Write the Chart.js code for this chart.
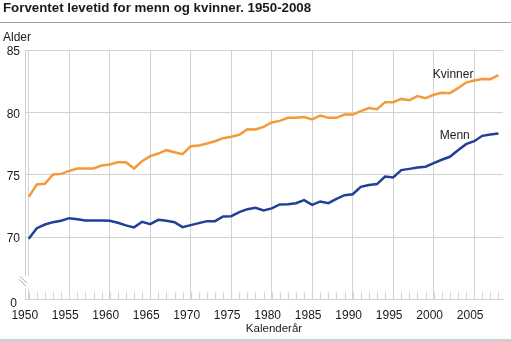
<!DOCTYPE html>
<html>
<head>
<meta charset="utf-8">
<script src="https://cdn.jsdelivr.net/npm/chart.js@4.4.1/dist/chart.umd.min.js"></script>
<style>
html,body{margin:0;padding:0;background:#fff;}
#wrap{width:511px;height:342px;position:relative;}
</style>
</head>
<body>
<div id="wrap"><canvas id="c" width="511" height="342"></canvas></div>
<script>
const years = [];
for (let y = 1950; y <= 2008; y++) years.push(y);

const kvinner = [73.23,74.22,74.27,75.02,75.07,75.31,75.50,75.50,75.50,75.74,
  75.82,76.00,76.00,75.50,76.09,76.49,76.70,76.97,76.81,76.65,
  77.29,77.35,77.50,77.69,77.93,78.04,78.20,78.65,78.63,78.84,
  79.19,79.32,79.56,79.56,79.62,79.43,79.75,79.56,79.56,79.83,
  79.83,80.10,80.34,80.26,80.82,80.82,81.08,80.98,81.30,81.14,
  81.41,81.57,81.54,81.94,82.39,82.55,82.68,82.66,82.98];

const menn = [69.87,70.72,71.01,71.20,71.31,71.52,71.44,71.34,71.34,71.34,
  71.31,71.15,70.94,70.78,71.23,71.04,71.39,71.31,71.20,70.80,
  70.96,71.12,71.28,71.28,71.66,71.68,72.00,72.24,72.35,72.14,
  72.30,72.62,72.64,72.72,72.96,72.59,72.86,72.72,73.07,73.36,
  73.44,74.03,74.17,74.25,74.86,74.78,75.37,75.47,75.58,75.64,
  75.93,76.20,76.44,76.97,77.45,77.69,78.12,78.23,78.31];

const xTickValues = [1950,1955,1960,1965,1970,1975,1980,1985,1990,1995,2000,2005];
const yTickValues = [65,70,75,80,85];
const yTickLabels = {65:'', 70:'70', 75:'75', 80:'80', 85:'85'};
const seriesNames = ['Kvinner','Menn'];
const titleText = 'Forventet levetid for menn og kvinner. 1950-2008';
const yAxisTitle = 'Alder';
const xAxisTitle = 'Kalenderår';
const brokenAxisZeroLabel = '0';

const FONT = '"Liberation Sans", Arial, sans-serif';
const GRID = '#d2d2d2';
const TEXT = '#1a1a1a';

const decor = {
  id: 'decor',
  beforeDatasetsDraw(chart) {
    const ctx = chart.ctx, xs = chart.scales.x, ys = chart.scales.y;
    const base = ys.getPixelForValue(65);
    ctx.save();
    ctx.strokeStyle = GRID;
    ctx.lineWidth = 1;
    for (const yr of years) {
      const px = Math.round(xs.getPixelForValue(yr)) + 0.5;
      ctx.beginPath();
      ctx.moveTo(px, base);
      ctx.lineTo(px, base - 7);
      ctx.stroke();
    }
    // axis break
    ctx.fillStyle = '#fff';
    const bY = ys.getPixelForValue(66.3);
    ctx.fillRect(16, bY - 7, 14, 12);
    ctx.strokeStyle = '#a8a8a8';
    ctx.beginPath();
    ctx.moveTo(19, bY - 4); ctx.lineTo(26, bY + 3);
    ctx.moveTo(20, bY - 7); ctx.lineTo(27, bY);
    ctx.stroke();
    ctx.strokeStyle = GRID;
    const p50 = Math.round(xs.getPixelForValue(1950)) + 0.5;
    ctx.beginPath(); ctx.moveTo(p50, base); ctx.lineTo(p50, base - 7); ctx.stroke();
    ctx.beginPath(); ctx.moveTo(chart.chartArea.left + 0.5, base); ctx.lineTo(chart.chartArea.left + 0.5, base - 7); ctx.stroke();
    ctx.restore();
  },
  afterDraw(chart) {
    const ctx = chart.ctx, xs = chart.scales.x, ys = chart.scales.y;
    ctx.save();
    ctx.fillStyle = TEXT;
    ctx.textBaseline = 'alphabetic';
    ctx.textAlign = 'left';
    ctx.font = 'bold 13.3px ' + FONT;
    ctx.fillText(titleText, 3, 12);
    ctx.strokeStyle = '#a0a0a0';
    ctx.lineWidth = 1;
    ctx.beginPath(); ctx.moveTo(0, 22.5); ctx.lineTo(511, 22.5); ctx.stroke();
    ctx.font = '12px ' + FONT;
    ctx.fillText(yAxisTitle, 3, 41);
    ctx.textAlign = 'right';
    ctx.fillText(brokenAxisZeroLabel, 17, 307);
    ctx.textAlign = 'center';
    ctx.font = '11.5px ' + FONT;
    ctx.fillText(xAxisTitle, 274, 332);
    ctx.fillStyle = '#cfcfcf';
    ctx.fillRect(0, 339, 511, 3);
    ctx.fillStyle = TEXT;
    ctx.font = '12px ' + FONT;
    ctx.textBaseline = 'middle';
    ctx.fillText(seriesNames[0], xs.getPixelForValue(2002.4), ys.getPixelForValue(83.06));
    ctx.fillText(seriesNames[1], xs.getPixelForValue(2002.6), ys.getPixelForValue(78.12));
    ctx.restore();
  }
};

new Chart(document.getElementById('c'), {
  type: 'line',
  data: {
    datasets: [
      { label: seriesNames[0], data: years.map((y, i) => ({x: y, y: kvinner[i]})),
        borderColor: '#f39a3a', borderWidth: 2.5, pointRadius: 0, tension: 0, fill: false },
      { label: seriesNames[1], data: years.map((y, i) => ({x: y, y: menn[i]})),
        borderColor: '#213f96', borderWidth: 2.5, pointRadius: 0, tension: 0, fill: false }
    ]
  },
  options: {
    responsive: false,
    animation: false,
    devicePixelRatio: 1,
    layout: { padding: { top: 50, right: 8, left: 0, bottom: 0 } },
    plugins: { legend: { display: false }, tooltip: { enabled: false }, title: { display: false } },
    scales: {
      x: {
        type: 'linear',
        min: 1949.54, max: 2008.56,
        afterBuildTicks(s) { s.ticks = xTickValues.map(v => ({value: v})); },
        afterFit(s) { s.height = 42.5; },
        grid: { color: GRID, drawTicks: false, lineWidth: 1 },
        border: { display: true, color: GRID },
        ticks: { color: TEXT, font: { family: FONT, size: 12 }, padding: 9, labelOffset: -4,
                 maxRotation: 0, autoSkip: false, callback: v => String(v) }
      },
      y: {
        type: 'linear',
        min: 65, max: 85,
        afterBuildTicks(s) { s.ticks = yTickValues.map(v => ({value: v})); },
        afterFit(s) { s.width = 25; },
        grid: { color: GRID, drawTicks: false, lineWidth: 1 },
        border: { display: true, color: GRID },
        ticks: { color: TEXT, font: { family: FONT, size: 12 }, padding: 5, labelOffset: 2,
                 callback: v => yTickLabels[v] }
      }
    }
  },
  plugins: [decor]
});
</script>
</body>
</html>
